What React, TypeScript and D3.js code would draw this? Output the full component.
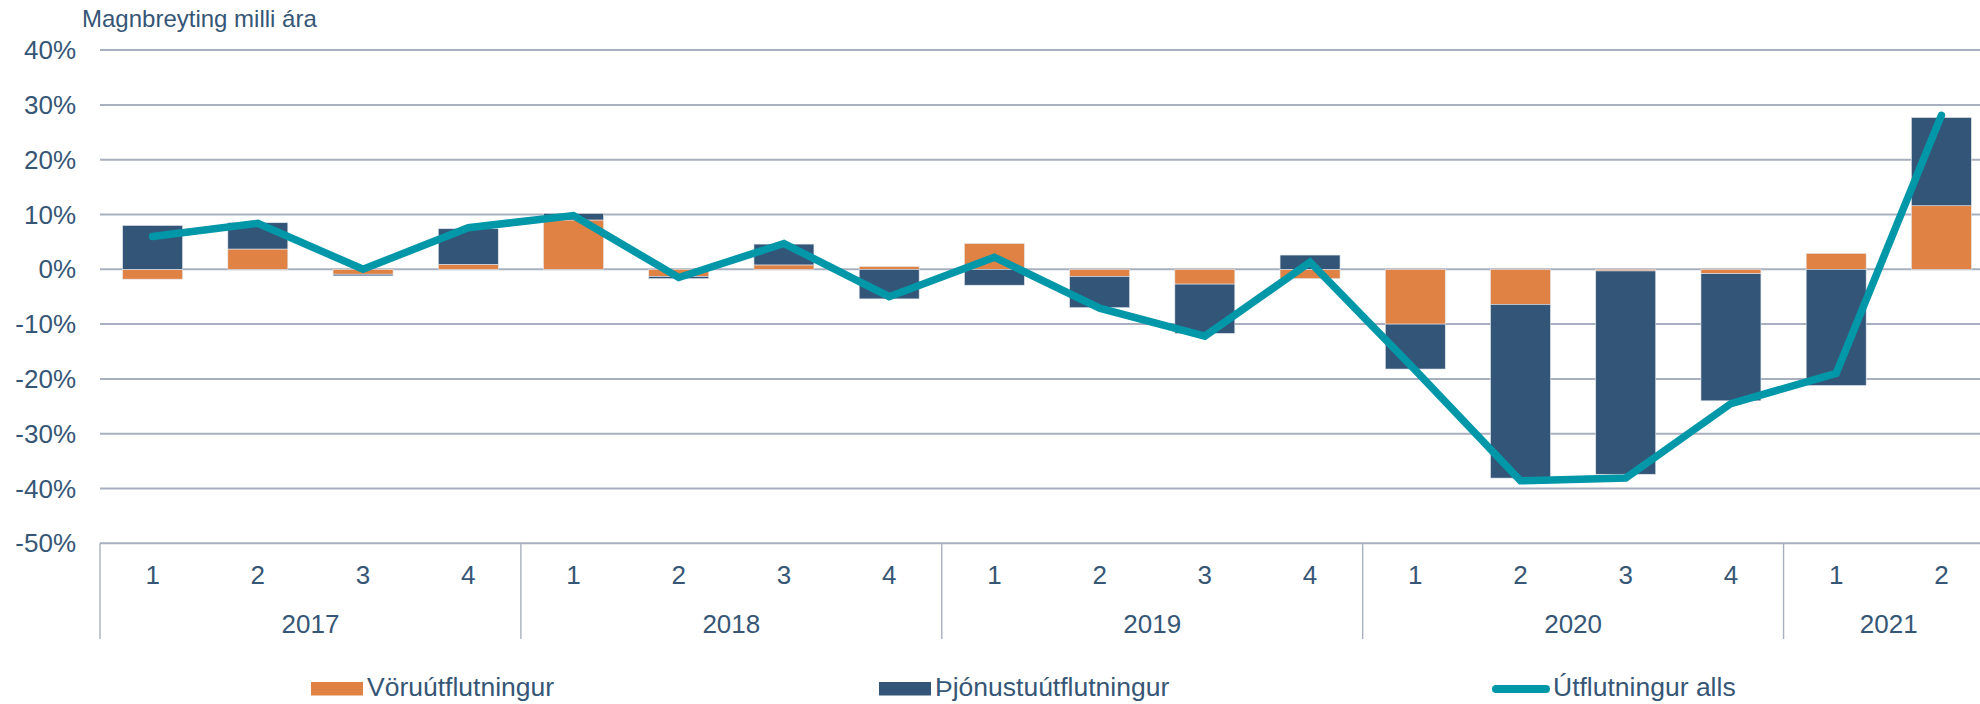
import React from "react";
import * as d3 from "d3";

const quarterLabels = ["1","2","3","4","1","2","3","4","1","2","3","4","1","2","3","4","1","2"];
const years = ["2017", "2018", "2019", "2020", "2021"];
const yearSpans = [4, 4, 4, 4, 2];
const vorur = [-1.8, 3.7, -0.9, 0.9, 9.0, -1.3, 0.8, 0.5, 4.7, -1.3, -2.7, -1.7, -10.0, -6.4, -0.3, -0.8, 2.9, 11.6];
const thjonustu = [8.0, 4.8, -0.3, 6.5, 1.2, -0.4, 3.8, -5.4, -2.9, -5.7, -9.0, 2.6, -8.2, -31.7, -37.1, -23.2, -21.2, 16.1];
const alls = [6.0, 8.4, 0.0, 7.6, 9.8, -1.5, 4.7, -5.0, 2.2, -7.1, -12.2, 1.3, -18.4, -38.6, -38.1, -24.5, -19.0, 28.1];
const yTicks = [40, 30, 20, 10, 0, -10, -20, -30, -40, -50];
const seriesNames = ["Vöruútflutningur", "Þjónustuútflutningur", "Útflutningur alls"];

const ORANGE = "#DF8243";
const NAVY = "#335678";
const TEAL = "#0097A9";
const TEXT = "#365676";
const GRID = "#A8AFBE";
const FONT = "Liberation Sans, Arial, sans-serif";

export default function App() {
  const W = 1980, H = 704;
  const left = 100, right = 1994;
  const idx = quarterLabels.map((_, i) => i);
  const x = d3.scaleBand<number>().domain(idx).range([left, right]).paddingInner(0.43).paddingOuter(0.215);
  const step = x.step();
  const y = d3.scaleLinear().domain([-50, 40]).range([543.3, 50.1]);

  const rows = idx.map(i => ({ i, v: vorur[i], t: thjonustu[i] }));
  const stacked = d3.stack<any>().keys(["v", "t"]).offset(d3.stackOffsetDiverging)(rows);
  const colors = [ORANGE, NAVY];

  const line = d3.line<number>()
    .x((_, i) => (x(i) as number) + x.bandwidth() / 2)
    .y(d => y(d));

  const bottom = y(-50);
  let acc = 0;
  const yearBounds = yearSpans.map(s => { const a = acc; acc += s; return [a, acc]; });

  return (
    <svg width={W} height={H} style={{ position: "absolute", left: 0, top: 0, background: "#fff" }} fontFamily={FONT}>
      <text x={82} y={26.5} fontSize={24} fill={TEXT}>Magnbreyting milli ára</text>
      {yTicks.map(t => (
        <g key={t}>
          <line x1={left} x2={W} y1={y(t)} y2={y(t)} stroke={GRID} strokeWidth={2} />
          <text x={76} y={y(t) + 9} fontSize={26} fill={TEXT} textAnchor="end">{t}%</text>
        </g>
      ))}
      {stacked.map((s, k) => (
        <g key={k} fill={colors[k]}>
          {s.map((d, i) => {
            const y0 = y(d[0]), y1 = y(d[1]);
            return <rect key={i} x={x(i)} width={x.bandwidth()} y={Math.min(y0, y1)} height={Math.abs(y0 - y1)} stroke="#E4E6EC" strokeWidth={0.6} />;
          })}
        </g>
      ))}
      <path d={line(alls) || ""} fill="none" stroke={TEAL} strokeWidth={7.5} strokeLinecap="round" strokeLinejoin="miter" />
      {yearBounds.map(([a, b], k) => (
        <g key={k}>
          <line x1={left + a * step} x2={left + a * step} y1={bottom} y2={639} stroke={GRID} strokeWidth={1.4} />
          <text x={left + ((a + b) / 2) * step} y={632.5} fontSize={26} fill={TEXT} textAnchor="middle">{years[k]}</text>
        </g>
      ))}
      {quarterLabels.map((q, i) => (
        <text key={i} x={(x(i) as number) + x.bandwidth() / 2} y={584} fontSize={26} fill={TEXT} textAnchor="middle">{q}</text>
      ))}
      <rect x={311} y={682} width={52} height={13.5} fill={ORANGE} />
      <text x={367} y={696} fontSize={26.5} fill={TEXT}>{seriesNames[0]}</text>
      <rect x={879} y={682} width={52} height={13.5} fill={NAVY} />
      <text x={935} y={696} fontSize={26.5} fill={TEXT}>{seriesNames[1]}</text>
      <line x1={1496} x2={1546} y1={689} y2={689} stroke={TEAL} strokeWidth={8} strokeLinecap="round" />
      <text x={1553} y={696} fontSize={26.5} fill={TEXT}>{seriesNames[2]}</text>
    </svg>
  );
}
